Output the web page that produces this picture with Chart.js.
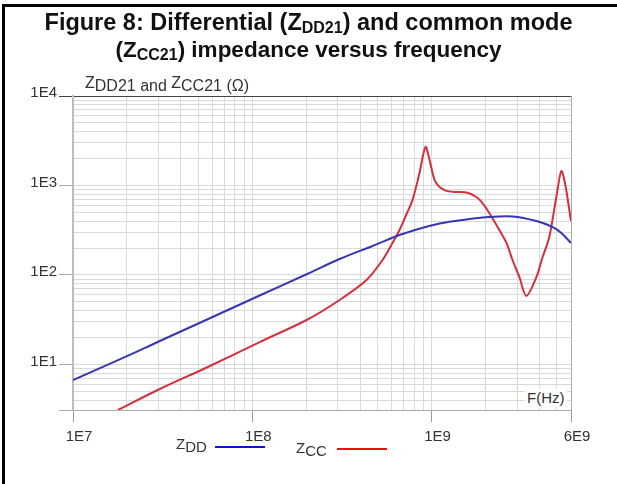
<!DOCTYPE html>
<html>
<head>
<meta charset="utf-8">
<script src="https://cdn.jsdelivr.net/npm/chart.js@4.4.0/dist/chart.umd.min.js"></script>
<style>
    body { margin: 0; background: #fff; font-family: 'Liberation Sans', Arial, sans-serif; }
    #wrap { position: relative; width: 617px; height: 484px; overflow: hidden; }
    #frame { position: absolute; left: 2px; top: 4px; right: -10px; bottom: -10px;
             border-top: 3px solid #000; border-left: 3px solid #000; }
    #chartBox { position: absolute; left: 0; top: 0; width: 617px; height: 484px; }
    .title { position: absolute; left: 0; width: 617px; text-align: center; font-weight: bold;
             line-height: 26px; color: #111; white-space: nowrap; }
    .title .s { font-size: 16px; position: relative; top: 3px; }
    .lbl { position: absolute; font-size: 15px; line-height: 18px; color: #333; white-space: nowrap; }
    .lbl .z { position: relative; top: -3px; }
    .key { position: absolute; height: 2px; width: 50px; }
</style>
</head>
<body>
<div id="wrap">
    <div id="chartBox"><canvas id="impChart"></canvas></div>
    <div id="frame"></div>
    <div class="title" style="top:9px; font-size:23.5px">Figure 8: Differential (Z<span class="s">DD21</span>) and common mode</div>
    <div class="title" style="top:37px; font-size:22.5px">(Z<span class="s">CC21</span>) impedance versus frequency</div>
    <div class="lbl" style="left:85px; top:77px; font-size:16px"><span class="z">Z</span>DD21 and <span class="z">Z</span>CC21 (Ω)</div>
    <div class="lbl" style="left:525px; top:389px; background:#fff; padding:0 2px">F(Hz)</div>
    <div class="lbl" style="left:176px; top:438px"><span class="z">Z</span>DD</div>
    <div class="key" style="left:215px; top:446px; background:#1010e0"></div>
    <div class="lbl" style="left:296px; top:442px"><span class="z">Z</span>CC</div>
    <div class="key" style="left:337px; top:448px; background:#e81010"></div>
</div>
<script>
// axis limits
const freqMin = 1e7;
const freqMax = 6e9;
const zMin = 3.1;
const zMax = 1e4;

// tick labels shown on the axes
const freqLabels = { 1e7: '1E7', 1e8: '1E8', 1e9: '1E9', 6e9: '6E9' };
const zLabels = { 10: '1E1', 100: '1E2', 1000: '1E3', 10000: '1E4' };

// differential mode ZDD21
const zddFreq = [1e7, 2e7, 3.05e7, 4.66e7, 7.21e7, 1.1e8, 2.01e8, 3.07e8, 4.69e8, 6.89e8,
    1.11e9, 1.63e9, 2.1e9, 2.83e9, 3.85e9, 4.72e9, 5.3e9, 6e9];
const zddValues = [6.7, 12.4, 18.3, 26.9, 40.1, 59, 102, 151, 211, 287,
    376, 422, 445, 451, 401, 344, 294, 228];

// common mode ZCC21
const zccFreq = [1.78e7, 3.05e7, 5.5e7, 1.1e8, 2.01e8, 3.07e8, 4.34e8, 5.33e8,
    6.06e8, 6.63e8, 7.26e8, 7.84e8, 8.57e8, 9.26e8, 9.75e8, 1.04e9, 1.11e9, 1.21e9,
    1.38e9, 1.57e9, 1.78e9, 1.92e9, 2.1e9, 2.39e9, 2.62e9, 2.83e9, 3.09e9, 3.38e9,
    3.85e9, 4.15e9, 4.54e9, 4.97e9, 5.3e9, 5.58e9, 6e9];
const zccValues = [3.1, 5.32, 9.14, 17.8, 31.4, 52.6, 87.9, 147,
    228, 318, 480, 690, 1379, 2694, 1927, 1152, 960, 870,
    845, 835, 744, 638, 493, 318, 228, 147, 95, 58.3,
    95, 155, 266, 744, 1452, 1013, 400];

const isDecade = v => Math.abs(Math.log10(v) - Math.round(Math.log10(v))) < 1e-9;

function logTicks(min, max) {
    const ticks = [{ value: min }];
    for (let e = Math.floor(Math.log10(min)); e <= Math.ceil(Math.log10(max)); e++) {
        for (let m = 1; m <= 9; m++) {
            const v = Number((m * Math.pow(10, e)).toPrecision(6));
            if (v > min && v < max) ticks.push({ value: v });
        }
    }
    ticks.push({ value: max });
    return ticks;
}

const toPoints = (xs, ys) => xs.map((x, i) => ({ x: x, y: ys[i] }));

const ctx = document.getElementById('impChart').getContext('2d');
new Chart(ctx, {
    type: 'line',
    data: {
        datasets: [
            {
                label: 'ZDD',
                data: toPoints(zddFreq, zddValues),
                borderColor: '#3636b4',
                borderWidth: 2,
                pointRadius: 0,
                tension: 0.35
            },
            {
                label: 'ZCC',
                data: toPoints(zccFreq, zccValues),
                borderColor: '#d2303c',
                borderWidth: 2,
                pointRadius: 0,
                tension: 0.3
            }
        ]
    },
    options: {
        responsive: true,
        maintainAspectRatio: false,
        animation: false,
        layout: { padding: { top: 96, right: 46, left: 0, bottom: 0 } },
        plugins: {
            legend: { display: false },
            title: { display: false },
            tooltip: { enabled: false }
        },
        scales: {
            x: {
                type: 'logarithmic',
                min: freqMin,
                max: freqMax,
                afterBuildTicks: scale => { scale.ticks = logTicks(freqMin, freqMax); },
                afterFit: scale => { scale.height = 74; },
                border: { color: '#aaa', width: 1 },
                grid: {
                    color: c => c.tick && c.tick.value === freqMax ? '#aaa' : '#d9d9d9',
                    tickColor: c => c.tick && freqLabels[c.tick.value] ? '#999' : 'rgba(0,0,0,0)',
                    tickLength: 12
                },
                ticks: {
                    autoSkip: false,
                    maxRotation: 0,
                    padding: 6,
                    labelOffset: 6,
                    color: '#333',
                    font: { family: "'Liberation Sans', Arial, sans-serif", size: 15 },
                    callback: v => freqLabels[v] || ''
                }
            },
            y: {
                type: 'logarithmic',
                min: zMin,
                max: zMax,
                afterBuildTicks: scale => { scale.ticks = logTicks(zMin, zMax); },
                afterFit: scale => { scale.width = 73; },
                border: { color: '#bbb', width: 2 },
                grid: {
                    color: c => c.tick && c.tick.value === zMax ? '#444' : '#d9d9d9',
                    tickColor: c => {
                        if (!c.tick) return 'rgba(0,0,0,0)';
                        if (c.tick.value === zMax) return '#444';
                        return (isDecade(c.tick.value) || c.tick.value === zMin) ? '#aaa' : 'rgba(0,0,0,0)';
                    },
                    tickLength: 14
                },
                ticks: {
                    autoSkip: false,
                    padding: 2,
                    labelOffset: -3,
                    color: '#333',
                    font: { family: "'Liberation Sans', Arial, sans-serif", size: 15 },
                    callback: v => zLabels[v] || ''
                }
            }
        }
    }
});
</script>
</body>
</html>
